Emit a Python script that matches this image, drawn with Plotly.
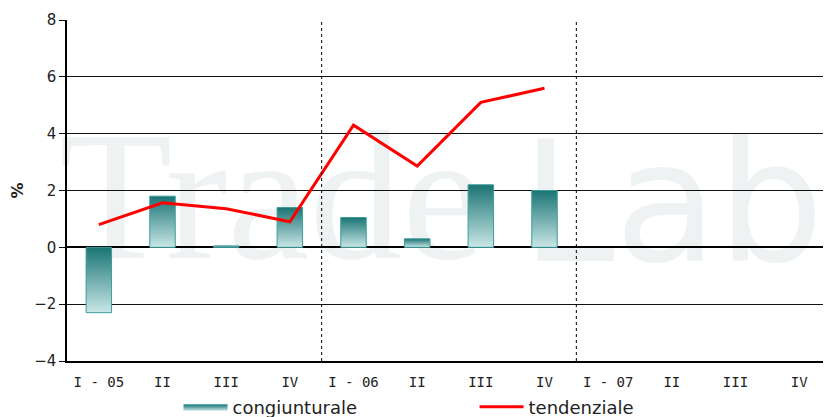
import plotly.graph_objects as go

categories = ["I - 05", "II", "III", "IV", "I - 06", "II", "III", "IV", "I - 07", "II", "III", "IV"]
congiunturale = [-2.3, 1.8, 0.05, 1.4, 1.05, 0.3, 2.2, 2.0]
tendenziale = [0.8, 1.57, 1.36, 0.9, 4.3, 2.86, 5.1, 5.6]
year_breaks = [3.5, 7.5]
yticks = [-4, -2, 0, 2, 4, 6, 8]

BAR_HALF = 0.2
DARK = "#1b7474"
LIGHT = "#c9e6e6"
EDGE = "#3c9c9c"
FONT = "DejaVu Sans"
WM = "#eff2f3"

fig = go.Figure()

for i, v in enumerate(congiunturale):
    fig.add_trace(go.Scatter(
        x=[i - BAR_HALF, i + BAR_HALF, i + BAR_HALF, i - BAR_HALF, i - BAR_HALF],
        y=[0, 0, v, v, 0],
        mode="lines",
        fill="toself",
        fillgradient=dict(type="vertical", colorscale=[[0, LIGHT], [1, DARK]]),
        line=dict(color=EDGE, width=1),
        name="congiunturale",
        legendgroup="cong",
        showlegend=(i == 0),
        hoverinfo="skip",
    ))

fig.add_trace(go.Scatter(
    x=list(range(len(tendenziale))),
    y=tendenziale,
    mode="lines",
    line=dict(color="#ff0000", width=3),
    name="tendenziale",
))

for xb in year_breaks:
    fig.add_shape(type="line", x0=xb, x1=xb, y0=0, y1=1, yref="paper", xref="x",
                  line=dict(color="black", width=1, dash="3px,3px"), layer="above")

# watermark "TradeLab"
fig.add_shape(type="rect", xref="paper", yref="paper", x0=0.253, x1=0.283, y0=0.513, y1=0.573,
              line=dict(width=0), fillcolor="rgba(0,0,0,0)", layer="below",
              label=dict(text="Trade", font=dict(family="Liberation Serif", size=185, color=WM),
                         textposition="middle center"))
fig.add_shape(type="rect", xref="paper", yref="paper", x0=0.7775, x1=0.8075, y0=0.47, y1=0.53,
              line=dict(width=0), fillcolor="rgba(0,0,0,0)", layer="below",
              label=dict(text="Lab", font=dict(family="DejaVu Sans", size=168, color=WM),
                         textposition="middle center"))

fig.update_layout(
    width=823, height=409,
    margin=dict(l=59, r=0, t=12, b=56, autoexpand=False),
    plot_bgcolor="white", paper_bgcolor="white",
    font=dict(family=FONT, size=13, color="#222222"),
    xaxis=dict(range=[-0.5, 11.5], tickvals=list(range(12)), ticktext=categories,
               showgrid=False, zeroline=False, showline=True, linecolor="black", linewidth=1.5,
               ticks="", ticklabelstandoff=7,
               tickfont=dict(size=14, family="DejaVu Sans Mono"), automargin=False),
    yaxis=dict(range=[-4, 8], tickvals=yticks, showgrid=True, gridcolor="#111111", gridwidth=1.3,
               zeroline=True, zerolinecolor="black", zerolinewidth=1.5,
               showline=True, linecolor="black", linewidth=1.5,
               ticks="outside", ticklen=6, tickcolor="black",
               tickfont=dict(size=15, family=FONT), automargin=False,
               title=dict(text="<b>%</b>", font=dict(size=16, family=FONT), standoff=20)),
    showlegend=True,
    legend=dict(orientation="h", x=0.146, xanchor="left", y=-0.135, yanchor="middle",
                font=dict(size=18, family=FONT), entrywidth=237, entrywidthmode="pixels",
                itemwidth=44, bgcolor="rgba(0,0,0,0)"),
)

fig.write_html("out.html")
